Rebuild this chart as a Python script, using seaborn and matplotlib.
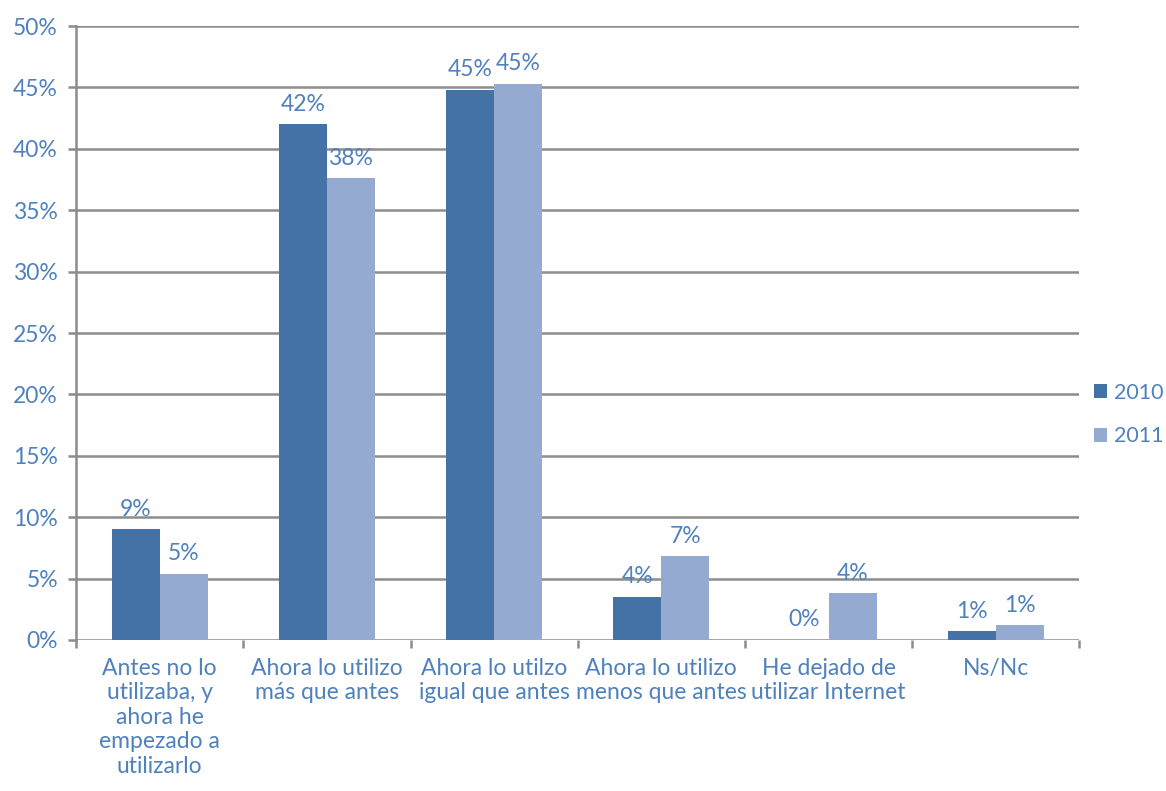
import matplotlib
matplotlib.use("Agg")
import matplotlib.pyplot as plt
from matplotlib.patches import Patch
from matplotlib.ticker import FixedLocator, PercentFormatter
import seaborn as sns
import pandas as pd

categories = [
    "Antes no lo\nutilizaba, y\nahora he\nempezado a\nutilizarlo",
    "Ahora lo utilizo\nmás que antes",
    "Ahora lo utilzo\nigual que antes",
    "Ahora lo utilizo\nmenos que antes",
    "He dejado de\nutilizar Internet",
    "Ns/Nc",
]
years = ["2010", "2011"]
values_2010 = [9.0, 42.0, 44.8, 3.5, 0.0, 0.7]
values_2011 = [5.4, 37.6, 45.3, 6.8, 3.8, 1.2]
y_ticks = [0, 5, 10, 15, 20, 25, 30, 35, 40, 45, 50]

df = pd.DataFrame({
    "categoria": categories * 2,
    "año": [years[0]] * len(categories) + [years[1]] * len(categories),
    "valor": values_2010 + values_2011,
})

sns.set_theme(style="white")
plt.rcParams["font.family"] = ["Lato", "DejaVu Sans"]

text_color = "#4F81BD"
grid_color = "#8C8C8C"
palette = {"2010": "#4472A6", "2011": "#95AAD1"}
fs = 16.5

fig = plt.figure(figsize=(11.66, 7.91), dpi=100)
ax = fig.add_axes([0.0652, 0.1909, 0.8606, 0.7762])

sns.barplot(data=df, x="categoria", y="valor", hue="año", palette=palette,
            width=0.575, saturation=1, linewidth=0, ax=ax, legend=False)

ax.set_ylim(0, 50)
ax.set_xlim(-0.5, len(categories) - 0.5)
ax.yaxis.set_major_locator(FixedLocator(y_ticks))
ax.yaxis.set_major_formatter(PercentFormatter(decimals=0))
ax.grid(axis="y", color=grid_color, linewidth=1.8)
ax.set_axisbelow(True)

for side in ["top", "right", "bottom"]:
    ax.spines[side].set_visible(False)
ax.spines["left"].set_color(grid_color)
ax.spines["left"].set_linewidth(1.8)

ax.set_xlabel("")
ax.set_ylabel("")

# category separators as minor ticks, labels centred on each group
ax.xaxis.set_minor_locator(FixedLocator([i - 0.5 for i in range(len(categories) + 1)]))
ax.tick_params(axis="x", which="major", length=0, pad=13, labelsize=fs,
               labelcolor=text_color)
ax.tick_params(axis="x", which="minor", length=6, width=1.8, color=grid_color,
               direction="out", bottom=True)
ax.tick_params(axis="y", which="major", length=6, width=1.8, color=grid_color,
               direction="out", left=True, pad=7, labelsize=fs,
               labelcolor=text_color)
for lab in ax.get_xticklabels():
    lab.set_linespacing(1.2)
    lab.set_verticalalignment("top")

for container in ax.containers:
    ax.bar_label(container, labels=[f"{v:.0f}%" for v in container.datavalues],
                 padding=7, fontsize=fs, color=text_color)

handles = [Patch(facecolor=palette[y], edgecolor="none", label=y) for y in years]
fig.legend(handles=handles, loc="center left", bbox_to_anchor=(0.938, 0.476),
           frameon=False, fontsize=15.5, labelcolor=text_color,
           borderpad=0, borderaxespad=0,
           handlelength=0.6, handleheight=0.6, handletextpad=0.35,
           labelspacing=1.1)

fig.savefig("out.png", dpi=100, facecolor="white")
